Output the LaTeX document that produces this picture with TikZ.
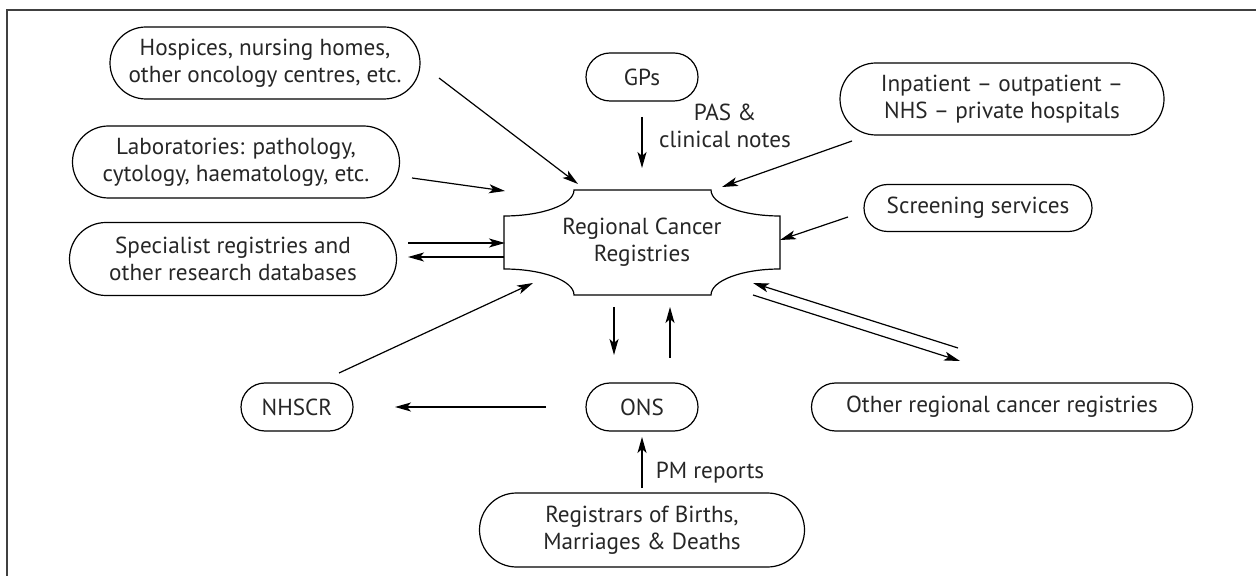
\documentclass[tikz,border=0pt]{standalone}
\usepackage{fontspec}
\setmainfont{PT Sans}
\usetikzlibrary{arrows.meta,shapes.misc}
\tikzset{
  src/.style={draw, rounded rectangle, align=center, inner sep=0pt, line width=0.6pt},
  flow/.style={-{Stealth[length=8pt,width=4.5pt,inset=2pt]}, line width=0.6pt}
}
\begin{document}
\begin{tikzpicture}[x=0.5pt, y=-0.5pt, every node/.style={font=\fontsize{11.6}{13.5}\selectfont, text=black!85}]
  \useasboundingbox (0,0) rectangle (1256,576);
  \draw[line width=1.1pt, black!75] (7,600) -- (7,10) -- (1270,10);
  % centre
  \draw[line width=0.6pt] (574,190) -- (711,190) .. controls (711,204.4) and (741.9,216) .. (780,216)
    -- (780,269) .. controls (741.9,269) and (711,280.6) .. (711,295)
    -- (574,295) .. controls (574,280.6) and (542.6,269) .. (504,269)
    -- (504,216) .. controls (542.6,216) and (574,204.4) .. (574,190) -- cycle;
  \node[align=center] (rcr) at (642,242) {Regional Cancer\\Registries};
  % sources
  \node[src, minimum width=155pt, minimum height=36pt] (hosp) at (265,63) {Hospices, nursing homes,\\other oncology centres, etc.};
  \node[src, minimum width=163.5pt, minimum height=36pt] (lab) at (236,162) {Laboratories: pathology,\\cytology, haematology, etc.};
  \node[src, minimum width=163.5pt, minimum height=36.5pt] (spec) at (233,259) {Specialist registries and\\other research databases};
  \node[src, minimum width=56pt, minimum height=24pt] (nhscr) at (297,407) {NHSCR};
  \node[src, minimum width=56pt, minimum height=24pt] (gps) at (642,77) {GPs};
  \node[src, minimum width=162pt, minimum height=36pt] (inpat) at (1002,99) {Inpatient -- outpatient --\\NHS -- private hospitals};
  \node[src, minimum width=114pt, minimum height=23.5pt] (screen) at (978,208) {Screening services};
  \node[src, minimum width=56pt, minimum height=24pt] (ons) at (642,407) {ONS};
  \node[src, minimum width=162.5pt, minimum height=37pt] (regis) at (642,530) {Registrars of Births,\\Marriages \& Deaths};
  \node[src, minimum width=190.5pt, minimum height=24pt] (other) at (1002,407) {Other regional cancer registries};
  % labels
  \node[align=center] (pas) at (725,126) {PAS \&\\clinical notes};
  \node (pm) at (710,473) {PM reports};
  % arrow ends
  \coordinate (hosp-o) at (439,78);   \coordinate (hosp-i) at (578,184);
  \coordinate (lab-o) at (412,178);   \coordinate (lab-i) at (505,191);
  \coordinate (gps-o) at (642,117);   \coordinate (gps-i) at (642,168);
  \coordinate (inpat-o) at (852,141); \coordinate (inpat-i) at (722,187);
  \coordinate (screen-o) at (848,217); \coordinate (screen-i) at (780,240);
  \coordinate (spec-a) at (408,243);  \coordinate (spec-b) at (505,243);
  \coordinate (spec-c) at (504,257);  \coordinate (spec-d) at (408,257);
  \coordinate (nhscr-o) at (339,373); \coordinate (nhscr-i) at (533,283);
  \coordinate (rcr-d1) at (614,307);  \coordinate (ons-d2) at (614,355);
  \coordinate (ons-u1) at (670,358);  \coordinate (rcr-u2) at (670,307);
  \coordinate (ons-l1) at (546,407);  \coordinate (nhscr-l2) at (395,407);
  \coordinate (regis-o) at (642,488); \coordinate (ons-i) at (642,437);
  \coordinate (other-a) at (958,348); \coordinate (other-b) at (753,283);
  \coordinate (other-c) at (753,295); \coordinate (other-d) at (960,361);
  % arrows
  \draw[flow] (hosp-o) -- (hosp-i);
  \draw[flow] (lab-o) -- (lab-i);
  \draw[flow] (gps-o) -- (gps-i);
  \draw[flow] (inpat-o) -- (inpat-i);
  \draw[flow] (screen-o) -- (screen-i);
  \draw[flow] (spec-a) -- (spec-b);
  \draw[flow] (spec-c) -- (spec-d);
  \draw[flow] (nhscr-o) -- (nhscr-i);
  \draw[flow] (rcr-d1) -- (ons-d2);
  \draw[flow] (ons-u1) -- (rcr-u2);
  \draw[flow] (ons-l1) -- (nhscr-l2);
  \draw[flow] (regis-o) -- (ons-i);
  \draw[flow] (other-a) -- (other-b);
  \draw[flow] (other-c) -- (other-d);
\end{tikzpicture}
\end{document}
